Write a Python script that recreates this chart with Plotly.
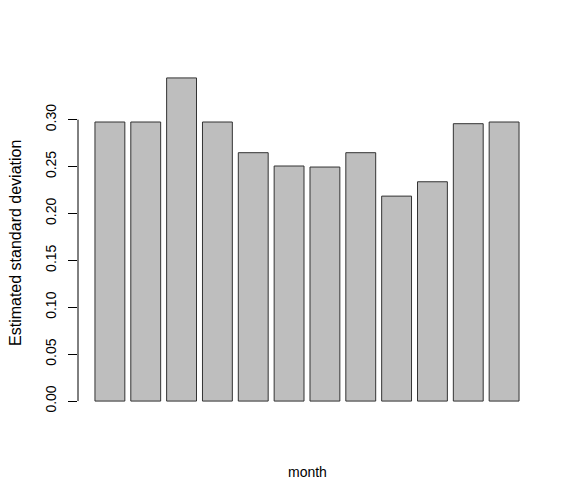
import plotly.graph_objects as go

months = [str(i) for i in range(1, 13)]
sd_values = [0.2975, 0.2975, 0.3445, 0.2975, 0.2648, 0.2506,
             0.2495, 0.2648, 0.2185, 0.2338, 0.2957, 0.2975]
y_ticks = [0.00, 0.05, 0.10, 0.15, 0.20, 0.25, 0.30]
y_tick_labels = ["0.00", "0.05", "0.10", "0.15", "0.20", "0.25", "0.30"]

font_family = "Liberation Sans, Arial, Helvetica, sans-serif"
ymax = max(sd_values)
ypad = 0.04 * ymax

fig = go.Figure(go.Bar(
    x=months, y=sd_values,
    marker=dict(color="#BEBEBE", line=dict(color="#333333", width=1)),
    hoverinfo="x+y",
))

fig.update_layout(
    width=576, height=502,
    margin=dict(l=70, r=48, t=57, b=96),
    paper_bgcolor="white", plot_bgcolor="white",
    bargap=0.2 / 1.2,
    showlegend=False,
    font=dict(family=font_family, size=13, color="black"),
    xaxis=dict(range=[-0.89, 11.89], showticklabels=False, ticks="",
               showgrid=False, zeroline=False, showline=False),
    yaxis=dict(range=[-ypad, ymax + ypad], tickvals=y_ticks, ticktext=y_tick_labels,
               tickangle=-90, ticks="outside", ticklen=9, tickcolor="black",
               tickwidth=1, ticklabelstandoff=6,
               showgrid=False, zeroline=False, showline=False,
               tickfont=dict(size=14, family=font_family)),
    shapes=[dict(type="line", xref="paper", yref="y", x0=0, x1=0,
                 y0=y_ticks[0], y1=y_ticks[-1], line=dict(color="black", width=1))],
    annotations=[
        dict(text="month", xref="paper", yref="paper", x=0.5, y=-0.166,
             xanchor="center", yanchor="middle", showarrow=False,
             font=dict(size=14, family=font_family)),
        dict(text="Estimated standard deviation", xref="paper", yref="paper",
             x=-0.1354, y=0.49, xanchor="center", yanchor="middle", textangle=-90,
             showarrow=False, font=dict(size=16, family=font_family)),
    ],
)

fig.write_html("out.html")
